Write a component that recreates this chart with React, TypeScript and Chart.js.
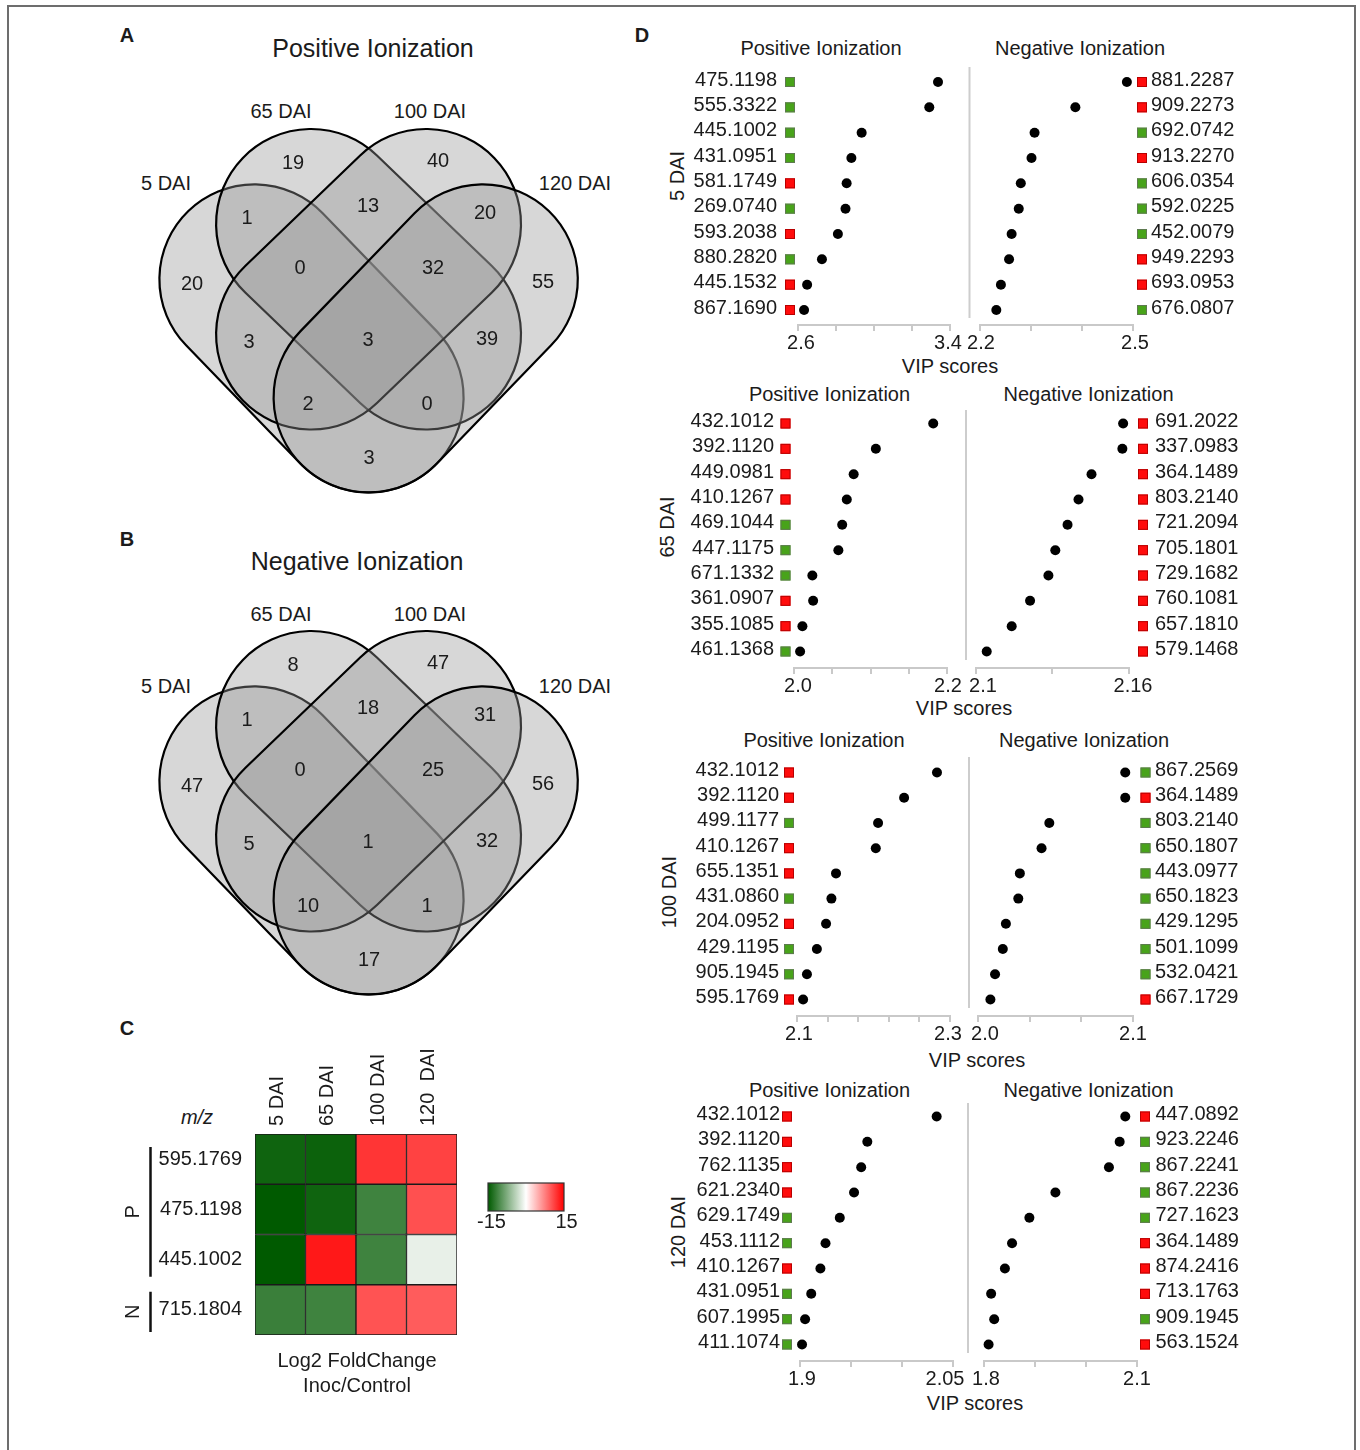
import React, { useEffect, useRef } from 'react';
import { Chart, registerables } from 'chart.js';

Chart.register(...registerables);

const FONT = "'Liberation Sans', Arimo, Arial, Helvetica, sans-serif";
const INK = '#1b1b1b';
Chart.defaults.font.family = FONT;
Chart.defaults.color = INK;

/* ================= A / B : Venn counts ================= */
const vennSetNames = ['5 DAI', '65 DAI', '100 DAI', '120 DAI'];
// regions: 5 | 65 | 100 | 120 | 5&65 | 65&100 | 100&120 | 5&65&100 | 65&100&120 | 5&100 | all | 65&120 | 5&100&120 | 5&65&120 | 5&120
const posVennCounts = [20, 19, 40, 55, 1, 13, 20, 0, 32, 3, 3, 39, 2, 0, 3];
const negVennCounts = [47, 8, 47, 56, 1, 18, 31, 0, 25, 5, 1, 32, 10, 1, 17];

/* ================= C : heatmap (log2 fold change) ================= */
const heatRows = ['595.1769', '475.1198', '445.1002', '715.1804'];
const heatGroups = ['P', 'P', 'P', 'N'];
const heatCols = ['5 DAI', '65 DAI', '100 DAI', '120  DAI'];
const heat5 = [-14.1, -15, -15, -11.6];
const heat65 = [-14.3, -14.1, 13.6, -11.3];
const heat100 = [11.9, -11.3, -11.3, 10.1];
const heat120 = [11.1, 10.3, -1.35, 9.6];
const heatLimits = [-15, 15];

/* ================= D : VIP scores ================= */
const d5PosMz = ['475.1198', '555.3322', '445.1002', '431.0951', '581.1749', '269.0740', '593.2038', '880.2820', '445.1532', '867.1690'];
const d5PosVip = [3.337, 3.291, 2.935, 2.881, 2.856, 2.85, 2.81, 2.726, 2.648, 2.632];
const d5PosReg = ['G', 'G', 'G', 'G', 'R', 'G', 'R', 'G', 'R', 'R'];
const d5PosTicks = [2.6, 2.8, 3.0, 3.2, 3.4];
const d5PosTickText = ['2.6', '3.4'];
const d5NegMz = ['881.2287', '909.2273', '692.0742', '913.2270', '606.0354', '592.0225', '452.0079', '949.2293', '693.0953', '676.0807'];
const d5NegVip = [2.488, 2.387, 2.307, 2.301, 2.28, 2.276, 2.262, 2.257, 2.241, 2.232];
const d5NegReg = ['R', 'R', 'G', 'R', 'G', 'G', 'G', 'R', 'R', 'G'];
const d5NegTicks = [2.2, 2.3, 2.4, 2.5];
const d5NegTickText = ['2.2', '2.5'];

const d65PosMz = ['432.1012', '392.1120', '449.0981', '410.1267', '469.1044', '447.1175', '671.1332', '361.0907', '355.1085', '461.1368'];
const d65PosVip = [2.182, 2.107, 2.078, 2.069, 2.063, 2.058, 2.024, 2.025, 2.011, 2.008];
const d65PosReg = ['R', 'R', 'R', 'R', 'G', 'G', 'G', 'R', 'R', 'G'];
const d65PosTicks = [2.0, 2.05, 2.1, 2.15, 2.2];
const d65PosTickText = ['2.0', '2.2'];
const d65NegMz = ['691.2022', '337.0983', '364.1489', '803.2140', '721.2094', '705.1801', '729.1682', '760.1081', '657.1810', '579.1468'];
const d65NegVip = [2.1577, 2.1574, 2.1453, 2.1402, 2.1359, 2.1311, 2.1284, 2.1212, 2.114, 2.1042];
const d65NegReg = ['R', 'R', 'R', 'R', 'R', 'R', 'R', 'R', 'R', 'R'];
const d65NegTicks = [2.1, 2.13, 2.16];
const d65NegTickText = ['2.1', '2.16'];

const d100PosMz = ['432.1012', '392.1120', '499.1177', '410.1267', '655.1351', '431.0860', '204.0952', '429.1195', '905.1945', '595.1769'];
const d100PosVip = [2.283, 2.24, 2.206, 2.203, 2.151, 2.145, 2.138, 2.126, 2.113, 2.108];
const d100PosReg = ['R', 'R', 'G', 'R', 'R', 'G', 'R', 'G', 'G', 'R'];
const d100PosTicks = [2.1, 2.14, 2.18, 2.22, 2.26, 2.3];
const d100PosTickText = ['2.1', '2.3'];
const d100NegMz = ['867.2569', '364.1489', '803.2140', '650.1807', '443.0977', '650.1823', '429.1295', '501.1099', '532.0421', '667.1729'];
const d100NegVip = [2.095, 2.095, 2.046, 2.041, 2.027, 2.026, 2.018, 2.016, 2.011, 2.008];
const d100NegReg = ['G', 'R', 'G', 'G', 'G', 'G', 'G', 'G', 'G', 'R'];
const d100NegTicks = [2.0, 2.0333, 2.0667, 2.1];
const d100NegTickText = ['2.0', '2.1'];

const d120PosMz = ['432.1012', '392.1120', '762.1135', '621.2340', '629.1749', '453.1112', '410.1267', '431.0951', '607.1995', '411.1074'];
const d120PosVip = [2.034, 1.966, 1.96, 1.953, 1.939, 1.925, 1.92, 1.911, 1.905, 1.902];
const d120PosReg = ['R', 'R', 'R', 'R', 'G', 'G', 'R', 'G', 'G', 'G'];
const d120PosTicks = [1.9, 1.95, 2.0, 2.05];
const d120PosTickText = ['1.9', '2.05'];
const d120NegMz = ['447.0892', '923.2246', '867.2241', '867.2236', '727.1623', '364.1489', '874.2416', '713.1763', '909.1945', '563.1524'];
const d120NegVip = [2.077, 2.066, 2.045, 1.94, 1.889, 1.855, 1.841, 1.814, 1.82, 1.809];
const d120NegReg = ['R', 'G', 'G', 'G', 'G', 'R', 'R', 'R', 'G', 'R'];
const d120NegTicks = [1.8, 1.9, 2.0, 2.1];
const d120NegTickText = ['1.8', '2.1'];

const dRowNames = ['5 DAI', '65 DAI', '100 DAI', '120 DAI'];

/* ================= layout (page pixels) ================= */
const VENN_BOX = { x0: 140, x1: 600, y0: 100, y1: 510 };
const VENN_R = 95;
const VENN_SHAPES = [
  [[254.4, 279.3], [368.6, 397.4]],
  [[311.1, 224], [426, 334.5]],
  [[426, 224], [311.1, 334.5]],
  [[482.8, 279.3], [368.6, 397.4]],
];
const VENN_LABEL_POS = [
  [192, 284], [293, 163], [438, 161], [543, 282], [247, 218], [368, 206], [485, 213],
  [300, 268], [433, 268], [249, 342], [368, 340], [487, 339], [308, 404], [427, 404], [369, 458],
];
const VENN_B_SHIFT = 502;

// shift: horizontal nudge (px) of the first / last tick label away from its tick mark
const D_LAYOUT = [
  { y0: 82, y9: 310, top: 67, axis: 325, pos: { l: 798, r: 950, edge: 777, sq: 790, shift: [3, -2] }, neg: { l: 980, r: 1133, start: 1151, sq: 1142, shift: [1, 2] }, div: [969.5, 67, 318], titleY: 48, posX: 821, negX: 1080, vip: [950, 366], rowLab: [677, 176] },
  { y0: 423.5, y9: 651.5, top: 410, axis: 668, pos: { l: 794, r: 947, edge: 774, sq: 785.5, shift: [4, 1] }, neg: { l: 976, r: 1129, start: 1155, sq: 1143, shift: [7, 4] }, div: [966, 410, 660], titleY: 394, posX: 829.5, negX: 1088.5, vip: [964, 708], rowLab: [667, 527] },
  { y0: 772.5, y9: 999.5, top: 757, axis: 1016, pos: { l: 797, r: 950, edge: 779, sq: 789, shift: [2, -2] }, neg: { l: 978, r: 1133, start: 1155, sq: 1145.5, shift: [7, 0] }, div: [969, 757, 1008], titleY: 740, posX: 824, negX: 1084, vip: [977, 1060], rowLab: [669, 892] },
  { y0: 1116.5, y9: 1344.5, top: 1103, axis: 1361, pos: { l: 800, r: 953, edge: 780, sq: 787, shift: [2, -8] }, neg: { l: 984, r: 1137, start: 1155.5, sq: 1145, shift: [2, 0] }, div: [968, 1103, 1353], titleY: 1090, posX: 829.5, negX: 1088.5, vip: [975, 1403], rowLab: [678, 1232] },
];
const D_PAD_TOP = 46;
const D_XAXIS_H = 44;
const AXIS_GRAY = '#c9c9c9';

const D_SERIES = [
  { pos: { mz: d5PosMz, vip: d5PosVip, reg: d5PosReg, ticks: d5PosTicks, tickText: d5PosTickText }, neg: { mz: d5NegMz, vip: d5NegVip, reg: d5NegReg, ticks: d5NegTicks, tickText: d5NegTickText } },
  { pos: { mz: d65PosMz, vip: d65PosVip, reg: d65PosReg, ticks: d65PosTicks, tickText: d65PosTickText }, neg: { mz: d65NegMz, vip: d65NegVip, reg: d65NegReg, ticks: d65NegTicks, tickText: d65NegTickText } },
  { pos: { mz: d100PosMz, vip: d100PosVip, reg: d100PosReg, ticks: d100PosTicks, tickText: d100PosTickText }, neg: { mz: d100NegMz, vip: d100NegVip, reg: d100NegReg, ticks: d100NegTicks, tickText: d100NegTickText } },
  { pos: { mz: d120PosMz, vip: d120PosVip, reg: d120PosReg, ticks: d120PosTicks, tickText: d120PosTickText }, neg: { mz: d120NegMz, vip: d120NegVip, reg: d120NegReg, ticks: d120NegTicks, tickText: d120NegTickText } },
];

const HEAT_BOX = { left: 110, top: 1020, width: 480, height: 345 };
const HEAT_PAD = { left: 0, top: 114, right: 133, bottom: 30 };

/* ================= helpers ================= */
function heatColor(v: number) {
  const t = Math.max(-1, Math.min(1, v / heatLimits[1]));
  if (t < 0) {
    const a = -t;
    return `rgb(${Math.round(255 - 255 * a)},${Math.round(255 - 165 * a)},${Math.round(255 - 255 * a)})`;
  }
  return `rgb(255,${Math.round(255 - 255 * t)},${Math.round(255 - 255 * t)})`;
}

function ChartBox({ box, make }: any) {
  const ref = useRef<HTMLCanvasElement | null>(null);
  useEffect(() => {
    const chart = new Chart(ref.current as any, make());
    return () => chart.destroy();
  }, []);
  return (
    <canvas
      ref={ref}
      width={box.width}
      height={box.height}
      style={{ position: 'absolute', left: box.left, top: box.top, width: box.width, height: box.height }}
    />
  );
}

function Txt({ x, y, s = 20, w = 400, rot = 0, it = false, children }: any) {
  return (
    <div
      style={{
        position: 'absolute', left: x, top: y, transform: `translate(-50%,-50%) rotate(${rot}deg)`,
        fontSize: s, fontWeight: w, fontStyle: it ? 'italic' : 'normal', fontFamily: FONT, color: INK,
        whiteSpace: 'pre', lineHeight: 1,
      }}
    >
      {children}
    </div>
  );
}

/* ================= Venn ================= */
function vennPlugin(counts: number[]) {
  return {
    id: 'vennShapes',
    beforeDatasetsDraw(chart: any) {
      const { ctx, scales } = chart;
      const xs = scales.x, ys = scales.y;
      const k = Math.abs(xs.getPixelForValue(1) - xs.getPixelForValue(0));
      ctx.save();
      VENN_SHAPES.forEach(([a, b]) => {
        const ax = xs.getPixelForValue(a[0]), ay = ys.getPixelForValue(a[1]);
        const bx = xs.getPixelForValue(b[0]), by = ys.getPixelForValue(b[1]);
        const r = VENN_R * k;
        const th = Math.atan2(by - ay, bx - ax);
        ctx.beginPath();
        ctx.arc(ax, ay, r, th + Math.PI / 2, th + (3 * Math.PI) / 2);
        ctx.arc(bx, by, r, th - Math.PI / 2, th + Math.PI / 2);
        ctx.closePath();
        ctx.fillStyle = 'rgba(150,150,150,0.38)';
        ctx.fill();
        ctx.lineWidth = 2.2;
        ctx.lineJoin = 'round';
        ctx.strokeStyle = '#000';
        ctx.stroke();
      });
      ctx.restore();
    },
    afterDatasetsDraw(chart: any) {
      const { ctx } = chart;
      const meta = chart.getDatasetMeta(0);
      ctx.save();
      ctx.font = `20px ${FONT}`;
      ctx.fillStyle = INK;
      ctx.textAlign = 'center';
      ctx.textBaseline = 'middle';
      meta.data.forEach((pt: any, i: number) => ctx.fillText(String(counts[i]), pt.x, pt.y));
      ctx.restore();
    },
  };
}

function buildVenn(counts: number[]) {
  return {
    type: 'scatter',
    data: {
      datasets: [{ data: VENN_LABEL_POS.map((p) => ({ x: p[0], y: p[1] })), pointRadius: 0, pointHoverRadius: 0 }],
    },
    options: {
      responsive: false, animation: false, devicePixelRatio: 1, events: [],
      layout: { padding: 0 },
      plugins: { legend: { display: false }, tooltip: { enabled: false } },
      scales: {
        x: { type: 'linear', min: VENN_BOX.x0, max: VENN_BOX.x1, display: false },
        y: { type: 'linear', min: VENN_BOX.y0, max: VENN_BOX.y1, reverse: true, display: false },
      },
    },
    plugins: [vennPlugin(counts)],
  };
}

/* ================= Heatmap ================= */
function buildHeat() {
  const cols = [heat5, heat65, heat100, heat120];
  const order = [3, 2, 1, 0]; // stack bottom-up
  const heatPlugin = {
    id: 'heatDecor',
    afterDraw(chart: any) {
      const { ctx, chartArea, scales } = chart;
      const xs = scales.x, ys = scales.y;
      ctx.save();
      ctx.font = `20px ${FONT}`;
      ctx.fillStyle = INK;
      // column headers
      ctx.textAlign = 'left';
      ctx.textBaseline = 'middle';
      heatCols.forEach((lab, i) => {
        ctx.save();
        ctx.translate(xs.getPixelForValue(i) - 3, chartArea.top - 8);
        ctx.rotate(-Math.PI / 2);
        ctx.fillText(lab, 0, 0);
        ctx.restore();
      });
      // group brackets P / N
      const groups: string[] = [];
      heatGroups.forEach((g) => { if (!groups.includes(g)) groups.push(g); });
      const lineX = 150.5 - HEAT_BOX.left;
      const textX = 133 - HEAT_BOX.left;
      groups.forEach((g, gi) => {
        const idx = heatGroups.map((v, i) => (v === g ? i : -1)).filter((i) => i >= 0);
        const first = idx[0], last = idx[idx.length - 1];
        const yTop = ys.getPixelForValue(heatRows.length - first);
        const yBot = ys.getPixelForValue(heatRows.length - last - 1);
        const y1 = yTop + (gi === 0 ? 13 : 7);
        const y2 = yBot - (gi === groups.length - 1 ? 3 : 8);
        ctx.strokeStyle = '#111';
        ctx.lineWidth = 2.5;
        ctx.beginPath();
        ctx.moveTo(lineX, y1);
        ctx.lineTo(lineX, y2);
        ctx.stroke();
        ctx.save();
        ctx.translate(textX, (y1 + y2) / 2);
        ctx.rotate(-Math.PI / 2);
        ctx.textAlign = 'center';
        ctx.textBaseline = 'middle';
        ctx.fillText(g, 0, 0);
        ctx.restore();
      });
      // colour bar
      const bx = chartArea.right + 31, by = chartArea.top + 49, bw = 76, bh = 28;
      const grad = ctx.createLinearGradient(bx, 0, bx + bw, 0);
      grad.addColorStop(0, heatColor(heatLimits[0]));
      grad.addColorStop(0.5, heatColor(0));
      grad.addColorStop(1, heatColor(heatLimits[1]));
      ctx.fillStyle = grad;
      ctx.fillRect(bx, by, bw, bh);
      ctx.strokeStyle = '#333';
      ctx.lineWidth = 1.2;
      ctx.strokeRect(bx, by, bw, bh);
      ctx.fillStyle = INK;
      ctx.textAlign = 'center';
      ctx.textBaseline = 'middle';
      ctx.fillText(String(heatLimits[0]), bx + 3.5, by + bh + 11);
      ctx.fillText(String(heatLimits[1]), bx + bw + 2.5, by + bh + 11);
      ctx.restore();
    },
  };
  return {
    type: 'bar',
    data: {
      labels: heatCols,
      datasets: order.map((r) => ({
        label: heatRows[r],
        data: heatCols.map(() => 1),
        backgroundColor: cols.map((c) => heatColor(c[r])),
        borderColor: '#1a1a1a',
        borderWidth: 1,
        borderSkipped: false,
        barPercentage: 1,
        categoryPercentage: 1,
      })),
    },
    options: {
      responsive: false, animation: false, devicePixelRatio: 1, events: [],
      layout: { padding: HEAT_PAD },
      plugins: { legend: { display: false }, tooltip: { enabled: false } },
      scales: {
        x: { stacked: true, display: false },
        y: {
          stacked: true, min: 0, max: heatRows.length,
          afterBuildTicks: (sc: any) => { sc.ticks = heatRows.map((_, i) => ({ value: i + 0.5 })); },
          afterFit: (sc: any) => { sc.width = 145; },
          grid: { display: false, drawTicks: false },
          border: { display: false },
          ticks: {
            autoSkip: false, padding: 13, color: INK, font: { size: 20 },
            callback: (v: number) => heatRows[heatRows.length - 1 - Math.floor(v)],
          },
        },
      },
    },
    plugins: [heatPlugin],
  };
}

/* ================= VIP dot plots ================= */
function buildXTicks(ser: any, S: any) {
  const vals: number[] = ser.ticks;
  const lo = vals[0], hi = vals[vals.length - 1];
  const perPx = (hi - lo) / (S.r - S.l);
  const out: any[] = [];
  const extra: any[] = [];
  vals.forEach((v, i) => {
    const end = i === 0 ? 0 : i === vals.length - 1 ? 1 : -1;
    if (end < 0) { out.push({ value: v, text: '' }); return; }
    const sh = S.shift[end];
    if (!sh) { out.push({ value: v, text: ser.tickText[end] }); return; }
    out.push({ value: v, text: '' });
    extra.push({ value: v + sh * perPx, text: ser.tickText[end], labelOnly: true });
  });
  return out.concat(extra).sort((a, b) => a.value - b.value);
}

function buildDot(row: any, side: 'pos' | 'neg', ser: any) {
  const S = side === 'pos' ? row.pos : row.neg;
  const spacing = (row.y9 - row.y0) / (ser.mz.length - 1);
  const yMin = -(row.y0 - row.top) / spacing;
  const yMax = ser.mz.length - 1 + (row.axis - row.y9) / spacing;
  const top = row.top - D_PAD_TOP;
  const height = row.axis + D_XAXIS_H - top;
  let left: number, width: number, pad: any, axisW: number;
  if (side === 'pos') {
    left = 680; width = S.r + 30 - left; pad = { left: 0, right: 30, top: D_PAD_TOP, bottom: 0 }; axisW = S.l - left;
  } else {
    left = S.l - 30; width = 1250 - left; pad = { left: 30, right: 0, top: D_PAD_TOP, bottom: 0 }; axisW = 1250 - S.r;
  }
  const labelPad = side === 'pos' ? S.l - S.edge : S.start - S.r;
  const box = { left, top, width, height };
  const xTicks = buildXTicks(ser, S);
  const markers = {
    id: 'regMarkers',
    afterDraw(chart: any) {
      const { ctx, scales } = chart;
      const ys = scales.y;
      ctx.save();
      ser.reg.forEach((g: string, i: number) => {
        const cy = ys.getPixelForValue(i);
        const cx = S.sq - left;
        ctx.fillStyle = g === 'R' ? '#ff0c0c' : '#48a31a';
        ctx.fillRect(cx - 5, cy - 5, 10, 10);
        ctx.strokeStyle = g === 'R' ? '#b80000' : '#5e7a50';
        ctx.lineWidth = 1;
        ctx.strokeRect(cx - 4.5, cy - 4.5, 9, 9);
      });
      if (side === 'neg') {
        const [dx, d1, d2] = row.div;
        ctx.strokeStyle = '#cdcdcd';
        ctx.lineWidth = 2;
        ctx.beginPath();
        ctx.moveTo(dx - left, d1 - top);
        ctx.lineTo(dx - left, d2 - top);
        ctx.stroke();
      }
      ctx.restore();
    },
  };
  const config = {
    type: 'scatter',
    data: {
      datasets: [{
        data: ser.vip.map((v: number, i: number) => ({ x: v, y: i })),
        pointRadius: 5, pointHoverRadius: 5, pointBackgroundColor: '#000', pointBorderWidth: 0, clip: false,
      }],
    },
    options: {
      responsive: false, animation: false, devicePixelRatio: 1, events: [],
      layout: { padding: pad },
      plugins: { legend: { display: false }, tooltip: { enabled: false } },
      scales: {
        x: {
          type: 'linear', min: ser.ticks[0], max: ser.ticks[ser.ticks.length - 1],
          afterBuildTicks: (sc: any) => { sc.ticks = xTicks.map((t) => ({ ...t })); },
          afterFit: (sc: any) => { sc.height = D_XAXIS_H; },
          grid: {
            drawOnChartArea: false, drawTicks: true, tickLength: 6, lineWidth: 2,
            color: (c: any) => (c.tick && c.tick.labelOnly ? 'rgba(0,0,0,0)' : AXIS_GRAY),
          },
          border: { display: true, color: AXIS_GRAY, width: 2 },
          ticks: {
            autoSkip: false, maxRotation: 0, minRotation: 0, padding: 0, color: INK, font: { size: 20 },
            callback: (_v: any, i: number, arr: any[]) => (arr[i] && arr[i].text) || '',
          },
        },
        y: {
          type: 'linear', position: side === 'pos' ? 'left' : 'right', reverse: true, min: yMin, max: yMax,
          afterBuildTicks: (sc: any) => { sc.ticks = ser.mz.map((_: any, i: number) => ({ value: i })); },
          afterFit: (sc: any) => { sc.width = axisW; },
          grid: { display: false, drawTicks: false },
          border: { display: false },
          ticks: {
            autoSkip: false, padding: labelPad, labelOffset: -2, color: INK, font: { size: 20 },
            callback: (v: number) => ser.mz[Math.round(v)] ?? '',
          },
        },
      },
    },
    plugins: [markers],
  };
  return { box, config };
}

/* ================= App ================= */
export default function App() {
  const vennA = { left: VENN_BOX.x0, top: VENN_BOX.y0, width: VENN_BOX.x1 - VENN_BOX.x0, height: VENN_BOX.y1 - VENN_BOX.y0 };
  const vennB = { ...vennA, top: VENN_BOX.y0 + VENN_B_SHIFT };
  const setLabelPos = [[166, 183], [281, 111], [430, 111], [575, 183]];
  const dots: any[] = [];
  D_LAYOUT.forEach((row, ri) => {
    (['pos', 'neg'] as const).forEach((side) => {
      dots.push({ key: `${ri}-${side}`, ...buildDot(row, side, D_SERIES[ri][side]) });
    });
  });
  return (
    <div style={{ position: 'absolute', left: 0, top: 0, width: 1360, height: 1450, overflow: 'hidden', background: '#fff', fontFamily: FONT }}>
      <div style={{ position: 'absolute', left: 7, top: 5, width: 1345, height: 1470, border: '2px solid #6d6d6d' }} />

      {/* Panel A */}
      <Txt x={127} y={35} w={700}>A</Txt>
      <Txt x={373} y={48} s={25}>Positive Ionization</Txt>
      {vennSetNames.map((n, i) => (
        <Txt key={`a${i}`} x={setLabelPos[i][0]} y={setLabelPos[i][1]}>{n}</Txt>
      ))}
      <ChartBox box={vennA} make={() => buildVenn(posVennCounts)} />

      {/* Panel B */}
      <Txt x={127} y={539} w={700}>B</Txt>
      <Txt x={357} y={561} s={25}>Negative Ionization</Txt>
      {vennSetNames.map((n, i) => (
        <Txt key={`b${i}`} x={setLabelPos[i][0]} y={setLabelPos[i][1] + VENN_B_SHIFT + 1}>{n}</Txt>
      ))}
      <ChartBox box={vennB} make={() => buildVenn(negVennCounts)} />

      {/* Panel C */}
      <Txt x={127} y={1028} w={700}>C</Txt>
      <Txt x={197} y={1117} it>m/z</Txt>
      <ChartBox box={HEAT_BOX} make={() => buildHeat()} />
      <Txt x={357} y={1360}>Log2 FoldChange</Txt>
      <Txt x={357} y={1385}>Inoc/Control</Txt>

      {/* Panel D */}
      <Txt x={642} y={35} w={700}>D</Txt>
      {D_LAYOUT.map((row, ri) => (
        <React.Fragment key={`dt${ri}`}>
          <Txt x={row.posX} y={row.titleY}>Positive Ionization</Txt>
          <Txt x={row.negX} y={row.titleY}>Negative Ionization</Txt>
          <Txt x={row.rowLab[0]} y={row.rowLab[1]} rot={-90}>{dRowNames[ri]}</Txt>
          <Txt x={row.vip[0]} y={row.vip[1]}>VIP scores</Txt>
        </React.Fragment>
      ))}
      {dots.map((d) => (
        <ChartBox key={d.key} box={d.box} make={() => d.config} />
      ))}
    </div>
  );
}
